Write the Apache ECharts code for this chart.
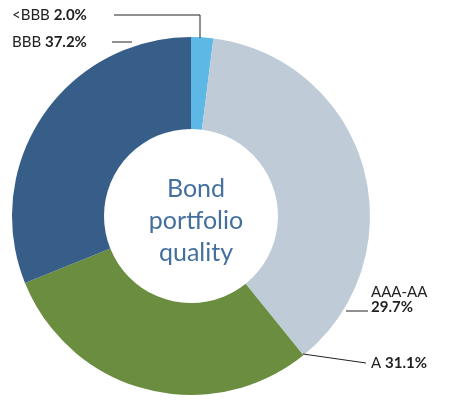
<!DOCTYPE html>
<html>
<head>
<meta charset="utf-8">
<script src="https://cdn.jsdelivr.net/npm/echarts@6/dist/echarts.min.js"></script>
</head>
<body style="margin:0">
<div id="main" style="width:455px;height:404px;"></div>
<script>
// slices clockwise from 12 o'clock, sized as drawn in the picture
var names = ['<BBB', 'AAA-AA', 'A', 'BBB'];
var values = [2.0, 37.2, 29.7, 31.1];
// percentages as printed on the labels
var labelTexts = ['2.0%', '29.7%', '31.1%', '37.2%'];
var colors = ['#5DB8E6', '#BFCCD7', '#6A8D40', '#375E89'];

var labelPos = [
  {x: 12, y: 15},
  {x: 371, y: 300},
  {x: 371, y: 363},
  {x: 12, y: 42}
];
var leaderLines = [
  [[114, 15], [200, 15], [200, 38]],
  [[346, 311], [368, 311]],
  [[303, 354], [366, 363]],
  [[112, 42], [132, 42]]
];

var chart = echarts.init(document.getElementById('main'));
chart.setOption({
  animation: false,
  title: {
    text: 'Bond\nportfolio\nquality',
    left: 191, top: 216, textAlign: 'center', textVerticalAlign: 'middle',
    textStyle: {color: '#4470A0', fontSize: 25, fontWeight: 'normal', fontFamily: 'Lato', lineHeight: 32}
  },
  graphic: leaderLines.map(function (pts) {
    return {type: 'polyline', shape: {points: pts}, style: {stroke: '#222', lineWidth: 1, fill: null}, z: 10};
  }),
  series: [{
    type: 'pie',
    center: [191, 216],
    radius: [87, 179],
    startAngle: 90,
    data: names.map(function (n, i) {
      return {name: n, value: values[i], itemStyle: {color: colors[i]}};
    }),
    label: {
      show: true,
      color: '#222',
      fontFamily: 'Lato',
      fontSize: 15,
      overflow: 'none',
      width: 200,
      formatter: function (p) {
        var t = labelTexts[p.dataIndex];
        if (p.name === 'AAA-AA') return p.name + '\n{b|' + t + '}';
        return p.name + ' {b|' + t + '}';
      },
      rich: {b: {fontWeight: 'bold', fontSize: 15, fontFamily: 'Lato', color: '#222'}}
    },
    labelLine: {show: false},
    labelLayout: function (p) {
      var l = labelPos[p.dataIndex];
      return {x: l.x, y: l.y, align: 'left', verticalAlign: 'middle'};
    }
  }]
});
</script>
</body>
</html>
